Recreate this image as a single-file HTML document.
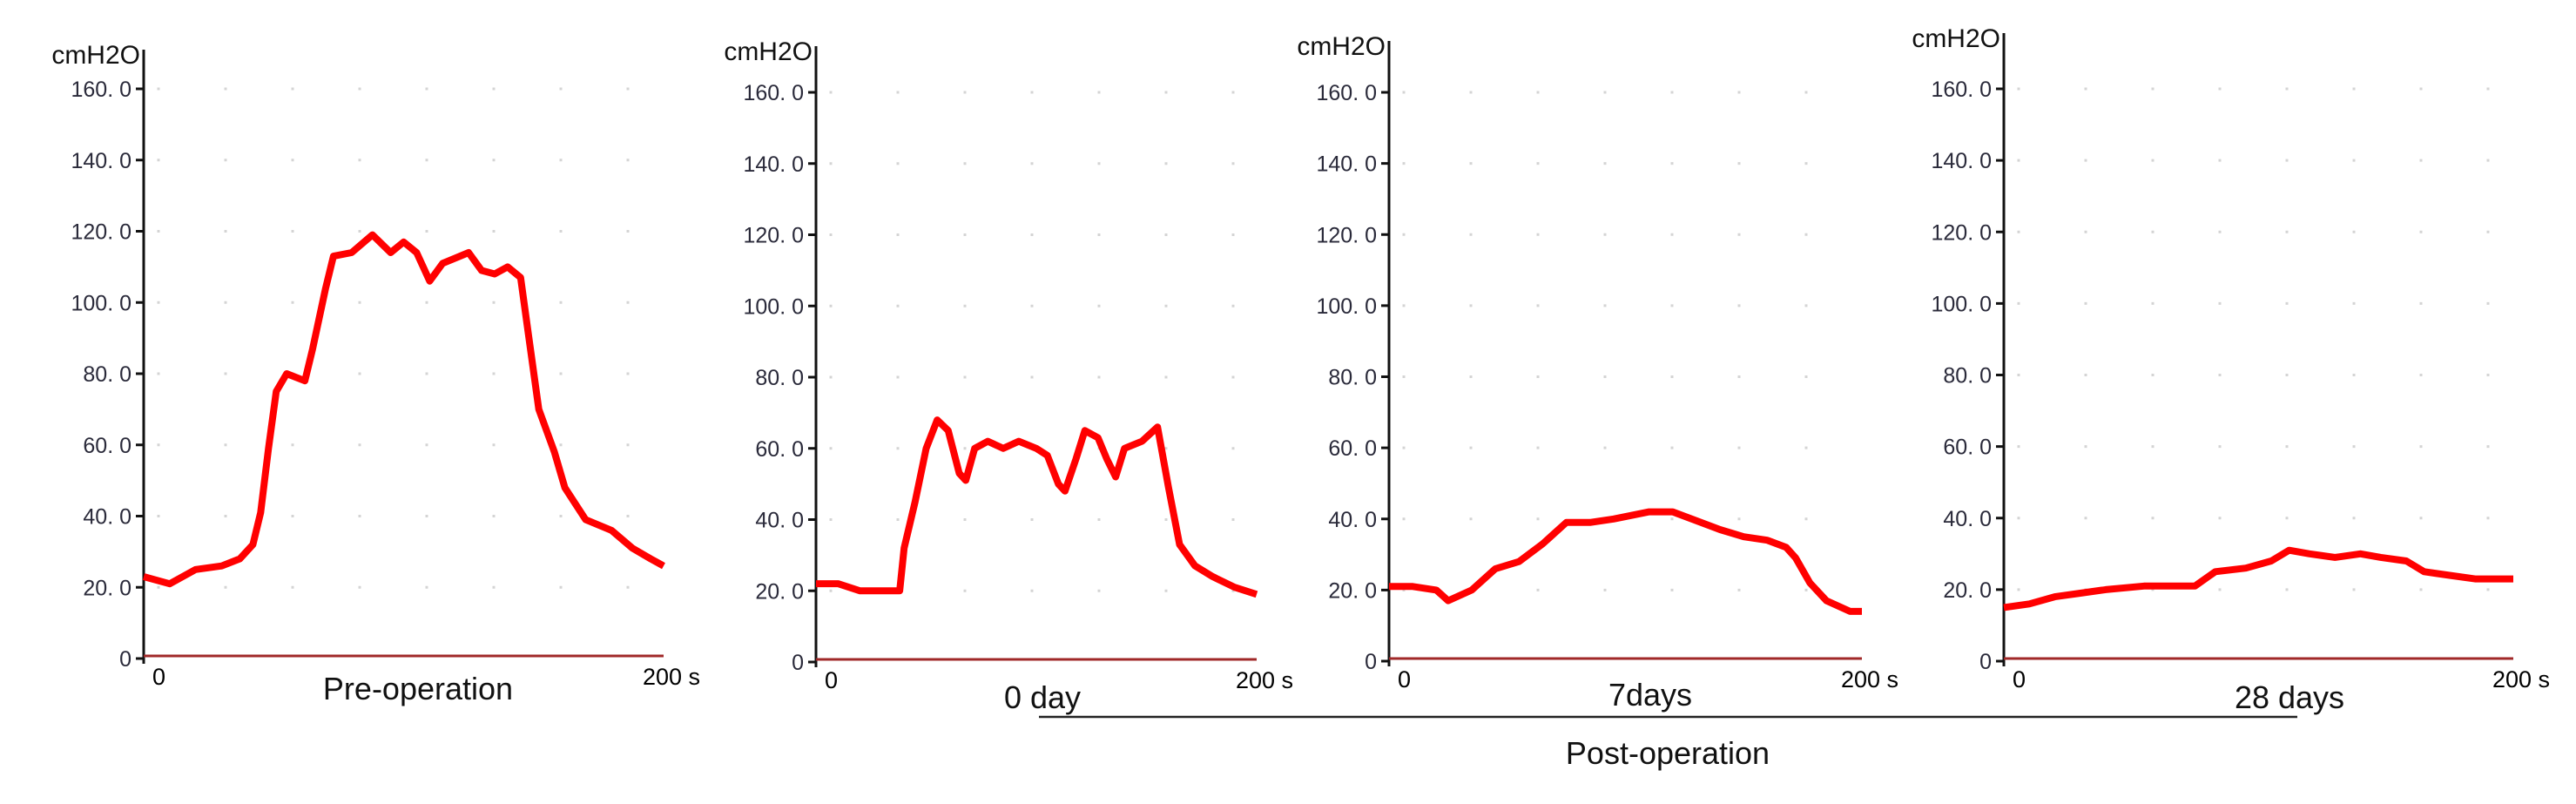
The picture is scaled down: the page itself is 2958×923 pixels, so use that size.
<!DOCTYPE html>
<html><head><meta charset="utf-8">
<style>
html,body{margin:0;padding:0;background:#fff;}
svg{display:block;font-family:"Liberation Sans",sans-serif;}
</style></head>
<body>
<svg id="fig" width="2958" height="923" viewBox="0 0 2958 923">
<g id="panels"></g>
<text x="480" y="803" font-size="36" text-anchor="middle" fill="#111">Pre-operation</text>
<text x="1197" y="813" font-size="36" text-anchor="middle" fill="#111">0 day</text>
<text x="1895" y="810" font-size="36" text-anchor="middle" fill="#111">7days</text>
<text x="2629" y="813" font-size="36" text-anchor="middle" fill="#111">28 days</text>
<line x1="1193" y1="823" x2="2638" y2="823" stroke="#222" stroke-width="2.5"/>
<text x="1915" y="877" font-size="36" text-anchor="middle" fill="#111">Post-operation</text>
</svg>
<script>
const yTicks = [0,20,40,60,80,100,120,140,160];
const yTickLabels = ["0","20. 0","40. 0","60. 0","80. 0","100. 0","120. 0","140. 0","160. 0"];
const xLabels = ["0","200 s"];
const t1 = [0,10,20,30,37,42,45,48,51,55,62,65,70,73,80,88,95,100,105,110,115,125,130,135,140,145,148,152,158,162,170,180,188,195,200];
const v1 = [23,21,25,26,28,32,41,59,75,80,78,87,104,113,114,119,114,117,114,106,111,114,109,108,110,107,91,70,58,48,39,36,31,28,26];
const t2 = [0,10,20,30,38,40,45,50,55,60,65,68,72,78,85,92,100,105,110,113,118,122,128,132,136,140,148,155,160,165,172,180,190,200];
const v2 = [22,22,20,20,20,32,45,60,68,65,53,51,60,62,60,62,60,58,50,48,57,65,63,57,52,60,62,66,49,33,27,24,21,19];
const t3 = [0,10,20,25,35,45,55,65,75,85,95,110,120,128,140,150,160,168,172,178,185,195,200];
const v3 = [21,21,20,17,20,26,28,33,39,39,40,42,42,40,37,35,34,32,29,22,17,14,14];
const t4 = [0,10,20,30,40,55,65,75,83,95,105,112,120,130,140,148,158,165,175,185,195,200];
const v4 = [15,16,18,19,20,21,21,21,25,26,28,31,30,29,30,29,28,25,24,23,23,23];

const layout = [
  {ax:165, right:762, y0:756, y160:102, top:57},
  {ax:937, right:1443, y0:760, y160:106, top:53},
  {ax:1595, right:2138, y0:759, y160:106, top:47},
  {ax:2301, right:2886, y0:759, y160:102, top:38}
];
const series = [[t1,v1],[t2,v2],[t3,v3],[t4,v4]];
const NS = "http://www.w3.org/2000/svg";
const root = document.getElementById("panels");
function mk(tag, attrs, parent){
  const e = document.createElementNS(NS, tag);
  for (const k in attrs) e.setAttribute(k, attrs[k]);
  parent.appendChild(e);
  return e;
}
layout.forEach((L, i) => {
  const g = mk("g", {}, root);
  
  
  const ys = v => L.y0 - (v/160)*(L.y0 - L.y160);
  const xs = t => L.ax + (t/200)*(L.right - L.ax);
  for (let k=1;k<yTicks.length;k++){
    for (let x=L.ax+17; x<L.right; x+=77){
      const d = mk("rect",{x:x-1.5,y:ys(yTicks[k])-1.5,width:3,height:3,fill:"#d4d4d4"},g);
      
      
    }
  }
  const ax = mk("line",{x1:L.ax,y1:L.top,x2:L.ax,y2:L.y0+6,stroke:"#111","stroke-width":3},g);
  
  
  yTicks.forEach((v,k)=>{
    const tk = mk("line",{x1:L.ax-9,y1:ys(v),x2:L.ax,y2:ys(v),stroke:"#111","stroke-width":3},g);
    
    
    const tl = mk("text",{x:L.ax-14,y:ys(v)+9,"font-size":25,"text-anchor":"end",fill:"#2a2a3a"},g);
    tl.textContent = yTickLabels[k];
    
    
  });
  const un = mk("text",{x:L.ax-4,y:L.top+16,"font-size":30,"text-anchor":"end",fill:"#111"},g);
  un.textContent = "cmH2O";
  
  
  const bl = mk("line",{x1:L.ax,y1:L.y0-3,x2:L.right,y2:L.y0-3,stroke:"#a02828","stroke-width":3},g);
  
  
  const x0 = mk("text",{x:L.ax+10,y:L.y0+30,"font-size":27,fill:"#000"},g);
  x0.textContent = xLabels[0];
  
  
  const x1 = mk("text",{x:L.right-24,y:L.y0+30,"font-size":27,fill:"#000"},g);
  x1.textContent = xLabels[1];
  
  
  const [T,V] = series[i];
  const pts = T.map((t,k)=>xs(t).toFixed(1)+","+ys(V[k]).toFixed(1)).join(" ");
  const pl = mk("polyline",{points:pts,fill:"none",stroke:"#ff0000","stroke-width":8,"stroke-linejoin":"round"},g);
  
  
});
</script>
</body></html>
